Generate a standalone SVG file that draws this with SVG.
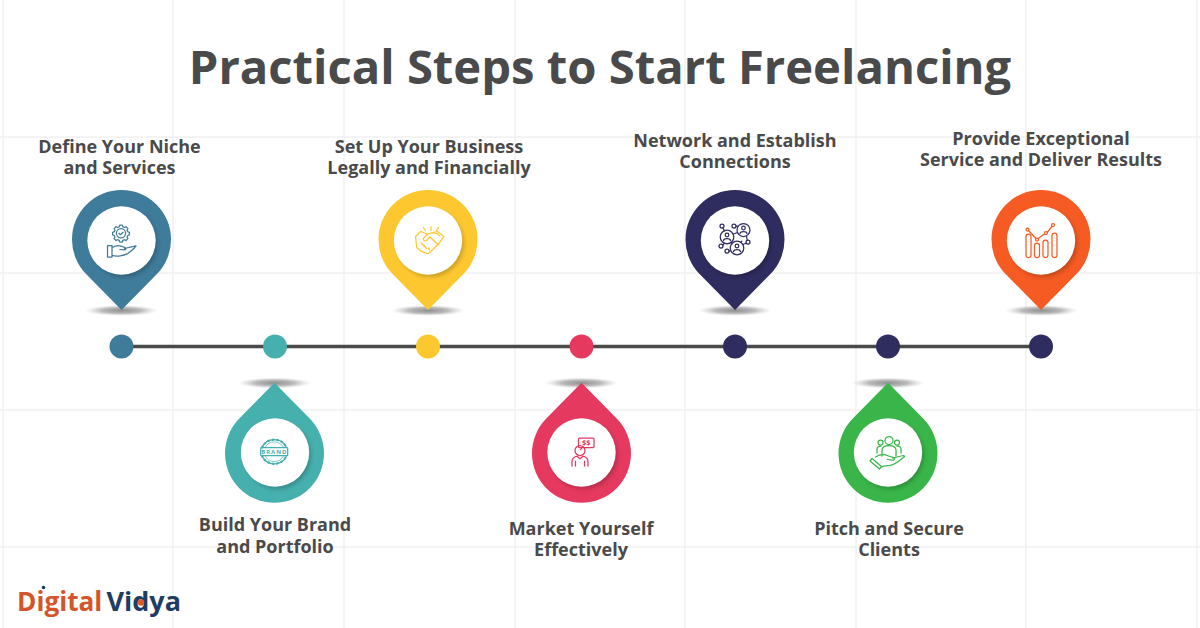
<svg xmlns="http://www.w3.org/2000/svg" width="1200" height="628" viewBox="0 0 1200 628">
<style>
text{font-family:"Open Sans","Liberation Sans",sans-serif;font-weight:700;fill:#4a4a4a;text-anchor:middle}
.lb{font-size:18px}
.g{stroke:#f1f1f1;stroke-width:1.5;fill:none}
.ic{fill:none;stroke-width:1.25;stroke-linecap:round;stroke-linejoin:round}
</style>
<defs>
<radialGradient id="sh"><stop offset="0" stop-color="#8f8f8f"/><stop offset=".55" stop-color="#bcbcbc"/><stop offset="1" stop-color="#dcdcdc" stop-opacity="0"/></radialGradient>
<filter id="bl" x="-30%" y="-30%" width="160%" height="160%"><feGaussianBlur stdDeviation="2"/></filter>
<path id="pu" d="M0,70.5L-35.2,34.75A49.5,49.5 0 1 1 35.2,34.75Z"/>
<path id="pd" d="M0,-70.5L-35.2,-34.75A49.5,49.5 0 1 0 35.2,-34.75Z"/>
<g id="face"><circle cx="2.500" cy="3" r="33.500" fill="#000" opacity=".2" filter="url(#bl)"/><circle r="34.200" fill="#fff"/></g>
</defs>
<rect width="1200" height="628" fill="#fff"/>
<g id="grid" class="g">
<path d="M3,0V628M173,0V628M344,0V628M515,0V628M685,0V628M856,0V628M1026,0V628M1197,0V628M0,137H1200M0,273H1200M0,410H1200M0,547H1200"/>
</g>
<text id="title" x="600" y="84" font-size="47.200">Practical Steps to Start Freelancing</text>
<g id="connectors"><path d="M121.500,346.500H1041" stroke="#4a4a4a" stroke-width="3.600" fill="none"/></g>

<g id="step1">
<ellipse cx="121.500" cy="310.500" rx="37" ry="5.500" fill="url(#sh)"/>
<circle cx="121.500" cy="346.500" r="12" fill="#3f7b9b"/>
<use href="#pu" x="121.500" y="239.500" fill="#3f7b9b"/>
<use href="#face" x="121.500" y="240.500"/>
<g class="ic" stroke="#3f7b9b">
<path d="M119.700,225.200h2.600l.6,1.700 1.500,.6 1.600,-.8 1.900,1.900-.8,1.600.6,1.500 1.700,.6v2.600l-1.700,.6-.6,1.500.8,1.600-1.900,1.900-1.600,-.8-1.500,.6-.6,1.700h-2.600l-.6,-1.700-1.500,-.6-1.600,.8-1.900,-1.900.8,-1.600-.6,-1.500-1.700,-.6v-2.600l1.700,-.6.6,-1.500-.8,-1.600 1.900,-1.900 1.600,.8 1.500,-.6.6,-1.700z"/>
<circle cx="121" cy="233.300" r="4.600"/><path d="M119,233.300l1.500,1.400 2.600,-2.400"/>
<path d="M107.500,245.500h4.500v11.500h-4.500zM112,247.500c3,-1.600 6,-2.600 9,-1.400l4,1.400c1.600,.8 1,2.600-1,2.400l-4,-.4M124.500,248.500l11.500,-2.600c-2,3-6,6-9,8-3,1.600-10,3-15,1.500"/>
</g>
<text class="lb" x="119.500" y="153">Define Your Niche</text><text class="lb" x="119.500" y="174">and Services</text>
</g>

<g id="step2">
<ellipse cx="274.500" cy="383" rx="37" ry="5.500" fill="url(#sh)"/>
<circle cx="275" cy="346.500" r="12" fill="#46b0ae"/>
<use href="#pd" x="274.500" y="453.300" fill="#46b0ae"/>
<use href="#face" x="275" y="452.500"/>
<g class="ic" stroke="#46b0ae">
<path d="M262,447.500A13.500,13.500 0 0 1 286.500,447.500M262,456A13.500,13.500 0 0 0 286.500,456"/>
<path d="M262,447.500A13.500,13.500 0 0 1 286.500,447.500M262,456A13.500,13.500 0 0 0 286.500,456" stroke-dasharray="1 3.500" stroke-width="2.200"/>
<path d="M265,447.500A10.500,10.500 0 0 1 283.500,447.500M265,456A10.500,10.500 0 0 0 283.500,456" stroke-width=".7"/>
<rect x="260.700" y="447.700" width="27" height="8" rx=".8"/>
</g>
<text x="274.300" y="454" font-size="6" letter-spacing=".9" style="fill:#46b0ae">BRAND</text>
<text class="lb" x="275" y="531">Build Your Brand</text><text class="lb" x="275" y="553">and Portfolio</text>
</g>

<g id="step3">
<ellipse cx="428" cy="310.500" rx="37" ry="5.500" fill="url(#sh)"/>
<circle cx="428" cy="346.500" r="12" fill="#fdc82f"/>
<use href="#pu" x="428" y="239.500" fill="#fdc82f"/>
<use href="#face" x="428" y="240.500"/>
<g class="ic" stroke="#fdc82f">
<path d="M431,226.500v4M423.500,227.500l2,3M438.500,227.500l-2,3"/>
<g transform="translate(0,-1.500)">
<path d="M415.500,238l5,-5 7,2.500 5,-1.500 5,-1 6.500,5-6,8-9,8.500c-1.500,1.200-3,.6-3.500,-.5-1.500,.6-3,0-3.500,-1.500-1.500,.3-3,-.6-3,-2-1.500,0-2.700,-1.200-2.400,-2.800z"/>
<path d="M427.500,235.500l-4,4.500c-.8,1.800 1.400,3 3,2l3.500,-3.500 8,7.500M432,234.500l5,.5 2.500,2M424,247l2.500,3M421,244.500l3,3M428.500,249.500l1.500,2"/>
</g>
</g>
<text class="lb" x="429" y="153">Set Up Your Business</text><text class="lb" x="429" y="174">Legally and Financially</text>
</g>

<g id="step4">
<ellipse cx="581.500" cy="383" rx="37" ry="5.500" fill="url(#sh)"/>
<circle cx="581.500" cy="346.500" r="12" fill="#e5395f"/>
<use href="#pd" x="581.500" y="453.300" fill="#e5395f"/>
<use href="#face" x="581.500" y="452.500"/>
<g class="ic" stroke="#e5395f">
<rect x="578.500" y="438" width="15.500" height="9.500" rx="1"/>
<path d="M582,447.500l-1.500,2"/>
<circle cx="580" cy="450.500" r="5"/>
<path d="M572,466v-4.500c0,-3 2,-4.500 5,-5.300l3,2.600 3,-2.600c3,.8 5,2.300 5,5.300V466M575.500,461v5M584.500,461v5"/>
</g>
<text x="586.200" y="445.300" font-size="7.500" style="fill:#e5395f">$$</text>
<text class="lb" x="581" y="534.500">Market Yourself</text><text class="lb" x="581" y="556">Effectively</text>
</g>

<g id="step5">
<ellipse cx="735" cy="310.500" rx="37" ry="5.500" fill="url(#sh)"/>
<circle cx="735" cy="346.500" r="12" fill="#2f2c60"/>
<use href="#pu" x="735" y="239.500" fill="#2f2c60"/>
<use href="#face" x="735" y="240.500"/>
<g class="ic" stroke="#2f2c60">
<circle cx="743.500" cy="230" r="6.500"/><circle cx="727" cy="237" r="6.800"/><circle cx="737" cy="248" r="6.800"/>
<circle cx="722" cy="226" r="2"/><circle cx="734" cy="226" r="2"/><circle cx="748" cy="242" r="2"/><circle cx="721" cy="246" r="2"/><circle cx="727" cy="251" r="2"/>
<path d="M723,228l1.500,3M736,226h1.500M733.500,234l4,-1.500M731.500,242.500l1,1M741,242l.8,-.8M746.500,236l.8,4.500M743,244.500l3.500,-1.500M723,245l1,-1.500M729,251h1"/>
<circle cx="743.500" cy="228" r="1.800"/><path d="M740,233.500c.7,-2.500 6.300,-2.500 7,0"/>
<circle cx="727" cy="235" r="1.800"/><path d="M723.500,240.500c.7,-2.500 6.300,-2.500 7,0"/>
<circle cx="737" cy="246" r="1.800"/><path d="M733.500,251.500c.7,-2.500 6.300,-2.500 7,0"/>
</g>
<text class="lb" x="735" y="147">Network and Establish</text><text class="lb" x="735" y="168">Connections</text>
</g>

<g id="step6">
<ellipse cx="888" cy="383" rx="37" ry="5.500" fill="url(#sh)"/>
<circle cx="888" cy="346.500" r="12" fill="#2f2c60"/>
<use href="#pd" x="888" y="453.300" fill="#39b54a"/>
<use href="#face" x="888" y="452.500"/>
<g class="ic" stroke="#39b54a">
<circle cx="889" cy="440.500" r="4"/><circle cx="880.500" cy="442.500" r="2.500"/><circle cx="897" cy="442.500" r="2.500"/>
<path d="M882,456v-6c0,-3 3,-4.500 7,-4.500s7,1.500 7,4.500v6M877,453v-4c0,-2 1.500,-3 4,-3M901,453v-4c0,-2-1.500,-3-4,-3"/>
<path d="M872,458.500l9.500,8-2,2.500-9.500,-8zM875.500,457c4,-2.500 9,-3 13,-1l5,1.500c1.800,1 .8,3-1,2.700l-5,-.7M892.500,458l11,-2.500c1,0 1.200,1 .5,1.500-4,3.500-9,8-15,8.500-3,.2-6,0-8,1.500"/>
</g>
<text class="lb" x="889" y="534.500">Pitch and Secure</text><text class="lb" x="889" y="556">Clients</text>
</g>

<g id="step7">
<ellipse cx="1041.500" cy="310.500" rx="37" ry="5.500" fill="url(#sh)"/>
<circle cx="1041" cy="346.500" r="12" fill="#2f2c60"/>
<use href="#pu" x="1041" y="239.500" fill="#f55b22"/>
<use href="#face" x="1041" y="240.500"/>
<g class="ic" stroke="#f55b22">
<rect x="1026" y="234" width="5" height="23.500" rx="2.500"/><rect x="1034.500" y="243" width="5" height="14.500" rx="2.500"/><rect x="1043" y="240" width="5" height="17.500" rx="2.500"/><rect x="1052" y="233" width="5" height="24.500" rx="2.500"/>
<path d="M1028.500,230.500l7.500,8M1038,238.500l6.500,-4.500M1047.500,232l4.500,-5.500"/>
<circle cx="1027.500" cy="229.500" r="1.500"/><circle cx="1037" cy="239.500" r="1.500"/><circle cx="1046" cy="233" r="1.500"/><circle cx="1053" cy="225" r="1.500"/>
</g>
<text class="lb" x="1041" y="145">Provide Exceptional</text><text class="lb" x="1041" y="166">Service and Deliver Results</text>
</g>

<g id="logo">
<text x="17" y="611" font-size="26.200" style="text-anchor:start;fill:#d4552a">Digital</text>
<text x="106.500" y="611" font-size="27" style="text-anchor:start;fill:#1f3d63">Vidya</text>
<circle cx="43.500" cy="587.500" r="1.800" fill="#1f3d63"/>
<circle cx="141" cy="602.500" r="3.200" fill="#e2572a"/>
</g>
</svg>
